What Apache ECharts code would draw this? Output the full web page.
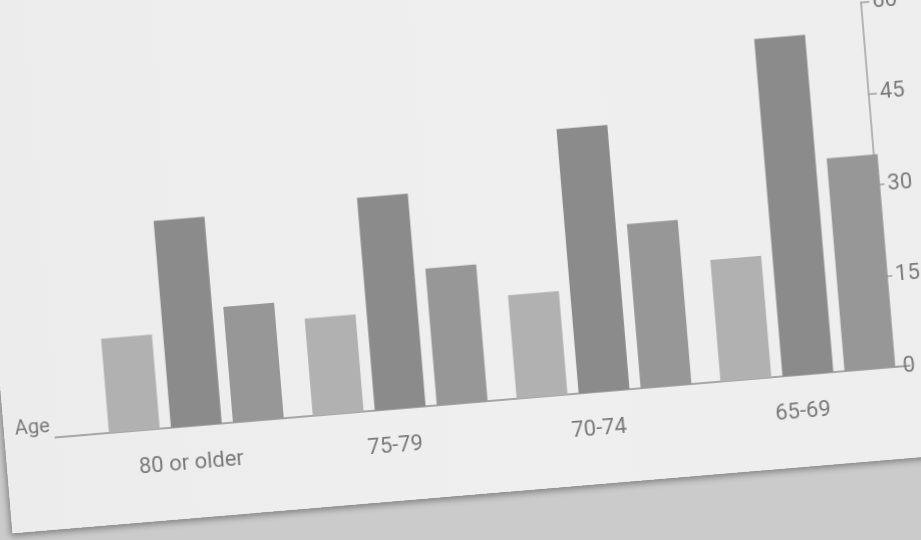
<!DOCTYPE html>
<html>
<head>
<meta charset="utf-8">
<script src="https://cdn.jsdelivr.net/npm/echarts@6/dist/echarts.min.js"></script>
<style>
  html, body { margin: 0; padding: 0; width: 921px; height: 540px; overflow: hidden; background: #cbcbcb; }
  #wrap { position: absolute; left: 0; top: 0; width: 921px; height: 540px; transform: rotate(-4.8deg); transform-origin: 460px 270px; }
  #paper { position: absolute; left: -8px; top: -90px; width: 1030px; height: 585px; background: linear-gradient(90deg, #ececec 0%, #efefef 50%, #ededed 100%); box-shadow: -2px 3px 6px rgba(0,0,0,0.35); }
  #chart { position: absolute; left: 0; top: 0; width: 921px; height: 540px; }
</style>
</head>
<body>
<div id="wrap">
  <div id="paper"></div>
  <div id="chart"></div>
</div>
<script>
const categories = ['80 or older', '75-79', '70-74', '65-69'];
const seriesLight = [15.5, 16, 17, 20];
const seriesDark = [34, 35, 43.5, 55.5];
const seriesMedium = [19, 22.5, 27, 35];
const yTicks = [0, 15, 30, 45, 60];

const chart = echarts.init(document.getElementById('chart'), null, { renderer: 'canvas' });
const font = 'Roboto, "Noto Sans", sans-serif';
chart.setOption({
  backgroundColor: 'transparent',
  animation: false,
  grid: { left: 82, right: 15, top: 37, bottom: 137 },
  xAxis: {
    type: 'category',
    data: categories,
    name: 'Age',
    nameLocation: 'start',
    nameGap: 44,
    nameTextStyle: { color: '#7a7a7a', fontSize: 20, fontFamily: font, verticalAlign: 'bottom', padding: [0, 0, 1, 0] },
    axisLine: {
      show: true,
      symbol: ['rect', 'none'],
      symbolSize: [1.5, 40],
      symbolOffset: [-20, 0],
      lineStyle: { color: '#8f8f8f', width: 1.5 }
    },
    axisTick: { show: false },
    axisLabel: { color: '#7a7a7a', fontSize: 22, fontFamily: font, margin: 26, padding: [0, 16, 0, 0] }
  },
  yAxis: {
    type: 'value',
    position: 'right',
    offset: -19,
    min: yTicks[0],
    max: yTicks[yTicks.length - 1],
    interval: 15,
    splitLine: { show: false },
    axisLine: { show: true, lineStyle: { color: '#a0a0a0', width: 1.5 } },
    axisTick: { show: true, length: 9, lineStyle: { color: '#a0a0a0', width: 1.5 } },
    axisLabel: { color: '#7a7a7a', fontSize: 22, fontFamily: font, margin: 12 }
  },
  series: [
    { name: 'A', type: 'bar', data: seriesLight, barWidth: 51, barGap: '22%', itemStyle: { color: '#b1b1b1' } },
    { name: 'B', type: 'bar', data: seriesDark, barWidth: 51, barGap: '22%', itemStyle: { color: '#8b8b8b' } },
    { name: 'C', type: 'bar', data: seriesMedium, barWidth: 51, barGap: '22%', itemStyle: { color: '#979797' } }
  ]
});
</script>
</body>
</html>
